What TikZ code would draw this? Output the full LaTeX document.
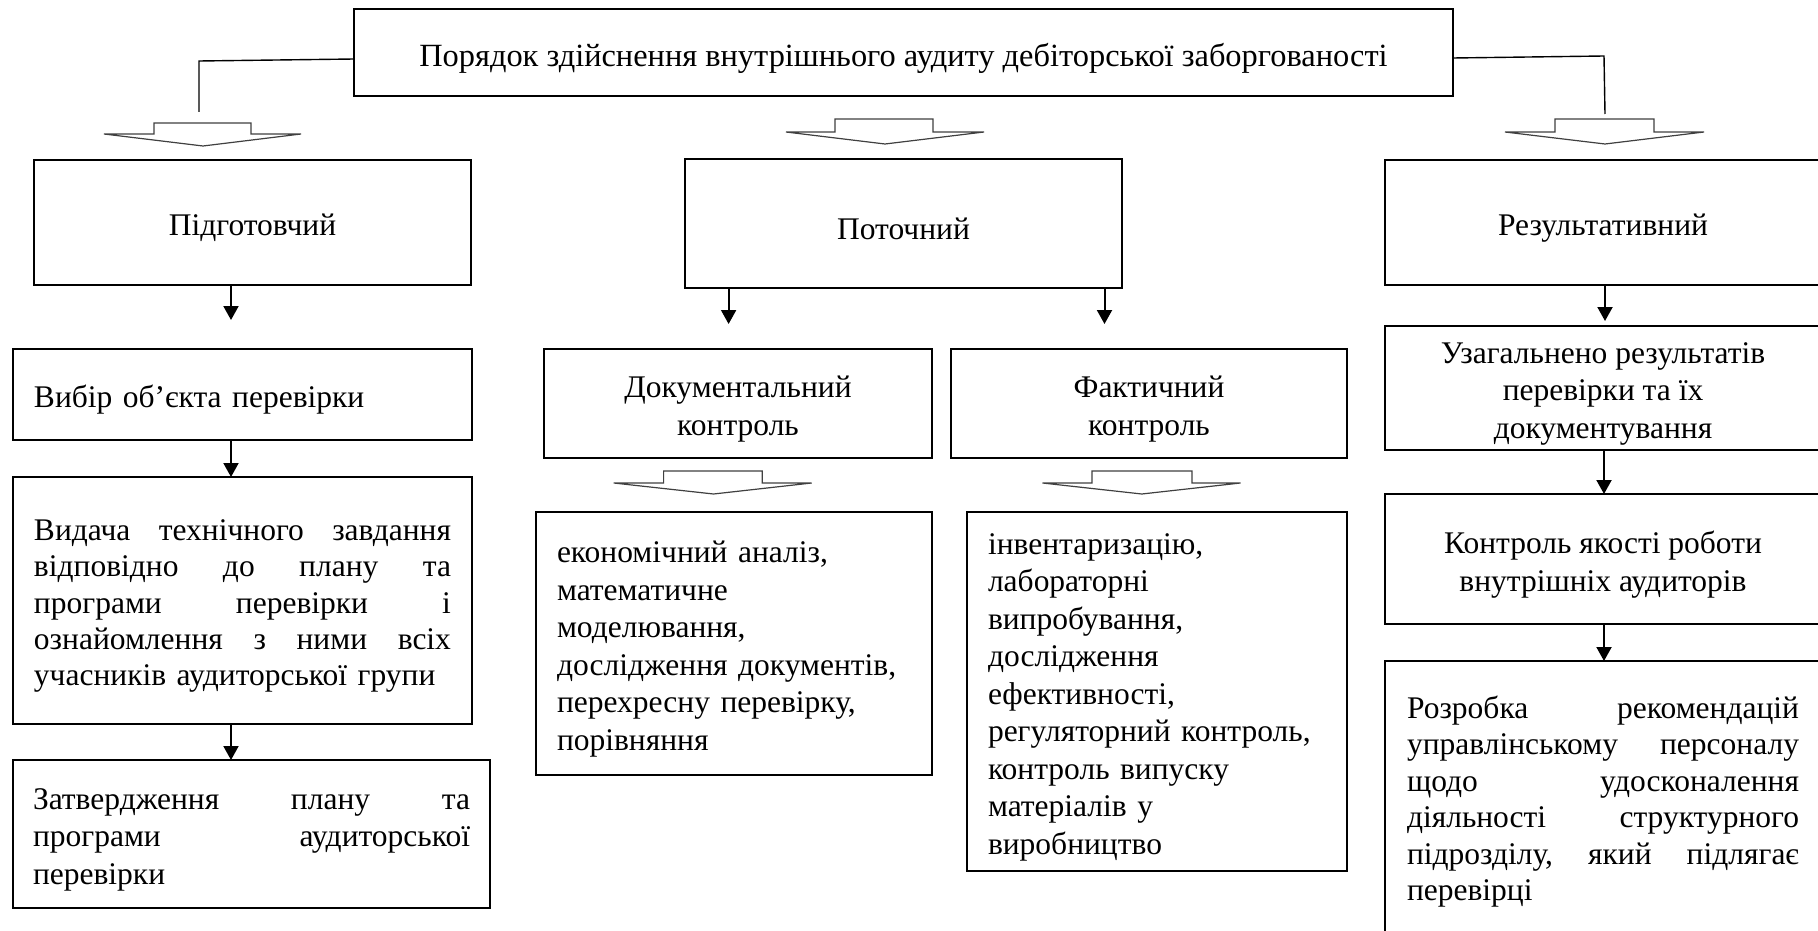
\documentclass[tikz,border=0pt]{standalone}
\usepackage{fontspec}
\setmainfont{Liberation Serif}
\usetikzlibrary{arrows.meta}
\newcommand\fsnorm{\fontsize{31.5}{36.4}\selectfont}
\newcommand\fswide{\fontsize{31.5}{37.5}\selectfont}
\newcommand\fstitle{\fontsize{32.4}{37}\selectfont}
\newcommand\jl[1]{\leavevmode\hbox to\linewidth{#1}}
\newcommand\blkarrow[8]{%
  \draw[blk] (#2,#5) -- (#3,#5) -- (#3,#6) -- (#4,#6) -- (#8,#7) -- (#1,#6) -- (#2,#6) -- cycle;}
\begin{document}
\begin{tikzpicture}[x=1pt,y=-1pt,
  box/.style={draw, line width=2pt, inner sep=0pt, outer sep=0pt, anchor=north west},
  txt/.style={inner sep=0pt, font=\fsnorm, align=center, yshift=-5.5pt},
  arr/.style={line width=2pt, -{Triangle[width=15pt,length=14pt]}},
  conn/.style={line width=1.4pt},
  blk/.style={draw=black!75, line width=1.2pt, line join=miter}]
\clip (0,0) rectangle (1818,931);
\fill[white] (0,0) rectangle (1818,931);

% ---------- boxes ----------
\node[box, minimum width=1099pt, minimum height=87pt]  (title)   at (354,9) {};
\node[box, minimum width=437pt,  minimum height=125pt] (podg)    at (34,160) {};
\node[box, minimum width=437pt,  minimum height=129pt] (potoch)  at (685,159) {};
\node[box, minimum width=436pt,  minimum height=125pt] (rezult)  at (1385,160) {};
\node[box, minimum width=459pt,  minimum height=91pt]  (vybir)   at (13,349) {};
\node[box, minimum width=388pt,  minimum height=109pt] (dokum)   at (544,349) {};
\node[box, minimum width=396pt,  minimum height=109pt] (fakt)    at (951,349) {};
\node[box, minimum width=436pt,  minimum height=124pt] (uzag)    at (1385,326) {};
\node[box, minimum width=459pt,  minimum height=247pt] (vydacha) at (13,477) {};
\node[box, minimum width=477pt,  minimum height=148pt] (zatv)    at (13,760) {};
\node[box, minimum width=396pt,  minimum height=263pt] (ekon)    at (536,512) {};
\node[box, minimum width=380pt,  minimum height=359pt] (inv)     at (967,512) {};
\node[box, minimum width=436pt,  minimum height=130pt] (kontr)   at (1385,494) {};
\node[box, minimum width=436pt,  minimum height=278pt] (rozr)    at (1385,661) {};

% ---------- texts ----------
\node[txt, font=\fstitle] (title-t) at (title.center)
  {Порядок здійснення внутрішнього аудиту дебіторської заборгованості};
\node[txt] (podg-t) at (podg.center) {Підготовчий};
\node[txt] (potoch-t) at (potoch.center) {Поточний};
\node[txt] (rezult-t) at (rezult.center) {Результативний};
\node[txt, text width=417pt, align=left] (vybir-t) at (vybir.center) {Вибір об’єкта перевірки};
\node[txt, font=\fswide] (dokum-t) at (dokum.center) {Документальний\\контроль};
\node[txt, font=\fswide] (fakt-t) at (fakt.center) {Фактичний\\контроль};
\node[txt, font=\fswide] (uzag-t) at (uzag.center)
  {Узагальнено результатів\\перевірки та їх\\документування};
\node[txt, text width=417pt, align=left] (vydacha-t) at (vydacha.center)
  {\jl{Видача\hfill технічного\hfill завдання}\\
   \jl{відповідно\hfill до\hfill плану\hfill та}\\
   \jl{програми\hfill перевірки\hfill і}\\
   \jl{ознайомлення\hfill з\hfill ними\hfill всіх}\\
   \mbox{учасників аудиторської групи}};
\node[txt, font=\fswide, text width=437pt, align=left] (zatv-t) at (zatv.center)
  {\jl{Затвердження\hfill плану\hfill та}\\
   \jl{програми\hfill аудиторської}\\
   перевірки};
\node[txt, font=\fswide, text width=354pt, align=left] (ekon-t) at (ekon.center)
  {\mbox{економічний аналіз,}\\
   математичне\\
   моделювання,\\
   \mbox{дослідження документів,}\\
   \mbox{перехресну перевірку,}\\
   порівняння};
\node[txt, font=\fswide, text width=338pt, align=left] (inv-t) at (inv.center)
  {інвентаризацію,\\
   лабораторні\\
   випробування,\\
   дослідження\\
   ефективності,\\
   \mbox{регуляторний контроль,}\\
   \mbox{контроль випуску}\\
   \mbox{матеріалів у}\\
   виробництво};
\node[txt, font=\fswide] (kontr-t) at (kontr.center) {Контроль якості роботи\\внутрішніх аудиторів};
\node[txt, text width=392pt, align=left, yshift=4pt] (rozr-t) at (rozr.center)
  {\jl{Розробка\hfill рекомендацій}\\
   \jl{управлінському\hfill персоналу}\\
   \jl{щодо\hfill удосконалення}\\
   \jl{діяльності\hfill структурного}\\
   \jl{підрозділу,\hfill який\hfill підлягає}\\
   перевірці};

% ---------- title connectors ----------
\coordinate (lbend) at (199,61);
\coordinate (lend) at (199,112);
\coordinate (rbend) at (1604,56);
\coordinate (rend) at (1605,114);
\draw[conn] ([yshift=-6.5pt]title.west) -- (lbend) -- (lend);
\draw[conn] ([yshift=-5.5pt]title.east) -- (rbend) -- (rend);

% ---------- block arrows ----------
\blkarrow{104}{154}{251}{301}{123}{134}{146}{203}
\blkarrow{786}{835}{933}{984}{119}{132}{144}{885}
\blkarrow{1505}{1555}{1654}{1704}{119}{132}{144}{1605}
\blkarrow{613.7}{663.6}{762.3}{811.7}{471}{483}{494}{713.5}
\blkarrow{1042.5}{1092}{1192}{1240.5}{471}{483}{494}{1141.8}

% ---------- arrows ----------
\coordinate (a1) at (231,320);
\coordinate (a2) at (728.6,324);
\coordinate (a3) at (1104.5,324);
\coordinate (a4) at (1605,321);
\coordinate (a5) at (1604,0);
\draw[arr] (podg.south -| a1) -- (a1);
\draw[arr] (vybir.south -| a1) -- (vydacha.north -| a1);
\draw[arr] (vydacha.south -| a1) -- (zatv.north -| a1);
\draw[arr] (potoch.south -| a2) -- (a2);
\draw[arr] (potoch.south -| a3) -- (a3);
\draw[arr] (rezult.south -| a4) -- (a4);
\draw[arr] (uzag.south -| a5) -- (kontr.north -| a5);
\draw[arr] (kontr.south -| a5) -- (rozr.north -| a5);
\end{tikzpicture}
\end{document}
